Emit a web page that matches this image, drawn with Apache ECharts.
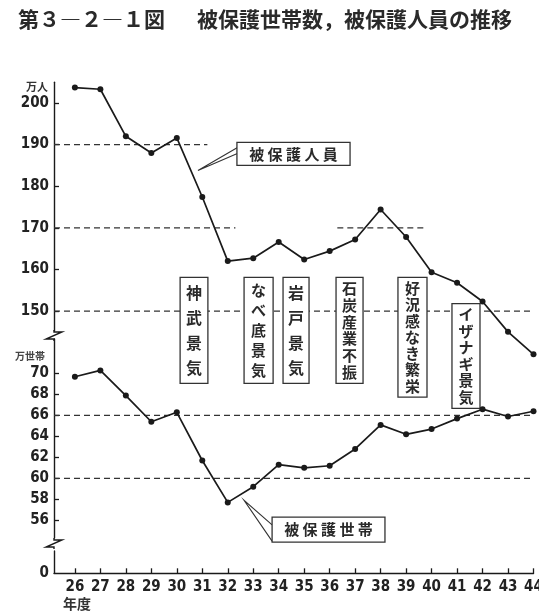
<!DOCTYPE html>
<html><head><meta charset="utf-8">
<script src="https://cdn.jsdelivr.net/npm/echarts@6.0.0/dist/echarts.min.js"></script>
<style>html,body{margin:0;padding:0;background:#fff}#c{width:539px;height:615px}</style>
</head><body><div id="c"></div>
<script>
// ---- data ----
const years = [26,27,28,29,30,31,32,33,34,35,36,37,38,39,40,41,42,43,44];
const persons = [203.7,203.3,192.0,188.0,191.6,177.4,162.0,162.7,166.6,162.4,164.4,167.2,174.4,167.8,159.3,156.8,152.3,145.0,139.6]; // 万人
const households = [69.7,70.3,67.9,65.4,66.3,61.7,57.7,59.2,61.3,61.0,61.2,62.8,65.1,64.2,64.7,65.7,66.6,65.9,66.4]; // 万世帯
const personTicks = [150,160,170,180,190,200];
const householdTicks = [56,58,60,62,64,66,68,70];
const zeroTick = [0];
// reference dashed lines: [value, fromYear, toYear]
const personRefLines = [[190,25.18,31.2],[170,25.18,32.3],[170,36.3,39.7],[150,25.18,44]];
const householdRefLines = [[66,25.18,44],[60,25.18,44]];
const periodNames = ['神武景気','なべ底景気','岩戸景気','石炭産業不振','好況感なき繁栄','イザナギ景気'];
const titleMain = '第３―２―１図';
const titleSub = '被保護世帯数，被保護人員の推移';
const unitUpper = '万人';
const unitLower = '万世帯';
const xUnit = '年度';
const calloutUpper = '被 保 護 人 員';
const calloutLower = '被 保 護 世 帯';

// ---- layout (axis units) ----
const X_MIN = 25.18, X_MAX = 44;
const periodBoxes = [
  {x0:30.13,x1:31.22,y0:158.1,y1:132.6},
  {x0:32.64,x1:33.78,y0:158.1,y1:132.6},
  {x0:34.17,x1:35.19,y0:158.1,y1:132.6},
  {x0:36.25,x1:37.31,y0:158.1,y1:132.6},
  {x0:38.68,x1:39.82,y0:158.1,y1:129.3},
  {x0:40.80,x1:41.90,y0:151.8,y1:126.6}
];

const ink = '#1a1a1a';
const numFont = '"Liberation Sans Narrow","DejaVu Sans Condensed","Arial Narrow",sans-serif';
const cjk = '"Noto Sans CJK JP","Noto Sans",sans-serif';

const chart = echarts.init(document.getElementById('c'), null, {renderer:'canvas'});

const grids = [
  {left:54, width:479.5, top:82.2, height:248.8, outerBoundsMode:'none', containLabel:false},
  {left:54, width:479.5, top:339, height:199, outerBoundsMode:'none', containLabel:false},
  {left:54, width:479.5, top:551, height:22.3, outerBoundsMode:'none', containLabel:false}
];

function hiddenX(i){ return {type:'value', gridIndex:i, min:X_MIN, max:X_MAX, show:false}; }
function yAx(i, min, max, ticks, showTick){
  return {type:'value', gridIndex:i, min:min, max:max,
    axisLine:{show:true, lineStyle:{color:ink, width:1.4}},
    axisTick:{show:showTick, inside:true, length:5, customValues:ticks, lineStyle:{color:ink, width:1.3}},
    axisLabel:{show:true, customValues:ticks, margin:5, color:'#222', fontSize:15, fontWeight:'bold', fontFamily:numFont},
    splitLine:{show:false}};
}

const series = [];
function refSeries(arr, gi){
  arr.forEach(r => {
    series.push({type:'line', xAxisIndex:gi, yAxisIndex:gi, data:[[r[1],r[0]],[r[2],r[0]]],
      symbol:'none', silent:true, z:1, lineStyle:{color:'#333', width:1.3, type:[6,4]}, emphasis:{disabled:true}});
  });
}
refSeries(personRefLines, 0);
refSeries(householdRefLines, 1);
series.push({type:'line', name:'被保護人員', xAxisIndex:0, yAxisIndex:0, clip:false, z:5,
  data: years.map((y,i)=>[y, persons[i]]), symbol:'circle', symbolSize:6,
  itemStyle:{color:ink}, lineStyle:{color:ink, width:1.7}, emphasis:{disabled:true}});
series.push({type:'line', name:'被保護世帯', xAxisIndex:1, yAxisIndex:1, clip:false, z:5,
  data: years.map((y,i)=>[y, households[i]]), symbol:'circle', symbolSize:6,
  itemStyle:{color:ink}, lineStyle:{color:ink, width:1.7}, emphasis:{disabled:true}});

chart.setOption({
  animation:false,
  backgroundColor:'#fff',
  grid: grids,
  xAxis: [hiddenX(0), hiddenX(1), {
    type:'value', gridIndex:2, min:X_MIN, max:X_MAX,
    axisLine:{show:true, lineStyle:{color:ink, width:1.4}},
    axisTick:{show:true, inside:true, length:5, customValues:years, lineStyle:{color:ink, width:1.3}},
    axisLabel:{show:true, customValues:years, margin:6, color:'#222', fontSize:15, fontWeight:'bold', fontFamily:numFont},
    splitLine:{show:false}
  }],
  yAxis: [yAx(0,145.2,205,personTicks,true), yAx(1,54.3,73.3,householdTicks,true), yAx(2,0,1,zeroTick,false)],
  series: series
});

function px(g, x, y){ return chart.convertToPixel({gridIndex:g}, [x, y]); }

const G = [];
// title
G.push({type:'text', z:10, style:{text:titleMain, x:18, y:19, font:'bold 21px '+cjk, fill:'#2a2a2a', textVerticalAlign:'middle'}});
G.push({type:'text', z:10, style:{text:titleSub, x:197, y:19, font:'bold 21px '+cjk, fill:'#2a2a2a', textVerticalAlign:'middle'}});
// units
G.push({type:'text', z:10, style:{text:unitUpper, x:37, y:87, font:'bold 11px '+cjk, fill:'#333', textAlign:'center', textVerticalAlign:'middle'}});
G.push({type:'text', z:10, style:{text:unitLower, x:30, y:356, font:'bold 10px '+cjk, fill:'#444', textAlign:'center', textVerticalAlign:'middle'}});
G.push({type:'text', z:10, style:{text:xUnit, x:63, y:604, font:'bold 14px '+cjk, fill:'#333', textVerticalAlign:'middle'}});

// axis break zigzags
function zig(yTop){
  const a = grids[0].left;
  return {type:'polyline', z:10, shape:{points:[[a,yTop],[a,yTop+2],[a+8,yTop+2],[a-8,yTop+9],[a,yTop+9],[a,yTop+11]]},
    style:{stroke:ink, lineWidth:1.4, fill:null}};
}
const upperBottom = grids[0].top + grids[0].height;
const lowerBottom = grids[1].top + grids[1].height;
G.push(zig(upperBottom - 1));
G.push(zig(lowerBottom - 0));

// period boxes with vertical text
periodBoxes.forEach((b, i) => {
  const p0 = px(0, b.x0, b.y0), p1 = px(0, b.x1, b.y1);
  const w = p1[0]-p0[0], h = p1[1]-p0[1];
  const chars = Array.from(periodNames[i]);
  const lh = Math.min(27, (h-6)/chars.length);
  const fs = chars.length <= 4 ? 16 : 15;
  G.push({type:'rect', z:3, shape:{x:p0[0], y:p0[1], width:w, height:h}, style:{fill:'#fff', stroke:'#333', lineWidth:1.3}});
  G.push({type:'text', z:4, style:{text:chars.join('\n'), x:p0[0]+w/2, y:p0[1]+(h-lh*chars.length)/2,
    font:'bold '+fs+'px '+cjk, lineHeight:lh, fill:'#2a2a2a', textAlign:'center', textVerticalAlign:'top'}});
});

// callouts
function callout(g, box, apex, b1, b2, text){
  const p0 = px(g, box[0], box[1]), p1 = px(g, box[2], box[3]);
  const a = px(g, apex[0], apex[1]), q1 = px(g, b1[0], b1[1]), q2 = px(g, b2[0], b2[1]);
  G.push({type:'polyline', z:6, shape:{points:[q1, a, q2]}, style:{stroke:'#333', lineWidth:1.1, fill:null}});
  G.push({type:'rect', z:6, shape:{x:p0[0], y:p0[1], width:p1[0]-p0[0], height:p1[1]-p0[1]}, style:{fill:'#fff', stroke:'#333', lineWidth:1.3}});
  G.push({type:'text', z:7, style:{text:text, x:(p0[0]+p1[0])/2, y:(p0[1]+p1[1])/2, font:'bold 15px '+cjk, fill:'#2a2a2a', textAlign:'center', textVerticalAlign:'middle'}});
}
callout(0, [32.36,190.55,36.80,185.0], [30.83,183.8], [32.4,189.35], [32.4,187.9], calloutUpper);
callout(1, [33.74,56.3,38.17,53.9], [32.64,57.9], [33.74,55.55], [33.74,54.0], calloutLower);

chart.setOption({graphic:{elements:G}});
</script>
</body></html>
